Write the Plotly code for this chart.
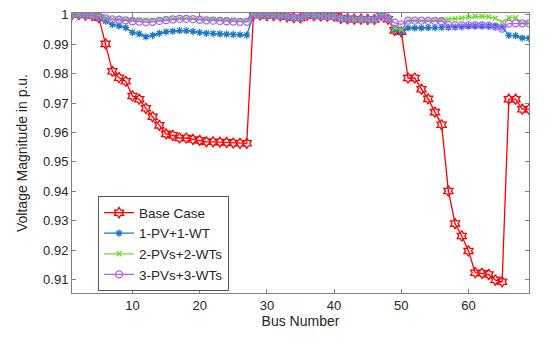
import plotly.graph_objects as go

buses = list(range(1, 70))

base_case = [1.0000, 1.0000, 0.9999, 0.9998, 0.9990, 0.9901, 0.9808, 0.9786, 0.9774, 0.9724,
             0.9713, 0.9682, 0.9653, 0.9624, 0.9595, 0.9590, 0.9581, 0.9581, 0.9576, 0.9573,
             0.9568, 0.9568, 0.9567, 0.9566, 0.9564, 0.9563, 0.9563, 0.9999, 0.9999, 0.9997,
             0.9997, 0.9996, 0.9993, 0.9990, 0.9989, 0.9999, 0.9997, 0.9996, 0.9995, 0.9995,
             0.9988, 0.9986, 0.9985, 0.9985, 0.9984, 0.9984, 0.9998, 0.9985, 0.9947, 0.9942,
             0.9785, 0.9785, 0.9747, 0.9714, 0.9669, 0.9626, 0.9401, 0.9290, 0.9248, 0.9197,
             0.9123, 0.9121, 0.9117, 0.9098, 0.9092, 0.9713, 0.9713, 0.9679, 0.9679]

lateral = [0.9999, 0.9999, 0.9997, 0.9997, 0.9996, 0.9993, 0.9990, 0.9989, 0.9999, 0.9997,
           0.9996, 0.9995, 0.9995, 0.9988, 0.9986, 0.9985, 0.9985, 0.9984, 0.9984]

pv1_wt1 = ([1.0000, 1.0000, 0.9999, 0.9998, 0.9993, 0.9978, 0.9967, 0.9962, 0.9956, 0.9940,
            0.9935, 0.9925, 0.9930, 0.9937, 0.9942, 0.9944, 0.9946, 0.9946, 0.9943, 0.9940,
            0.9937, 0.9936, 0.9935, 0.9934, 0.9933, 0.9932, 0.9931]
           + lateral +
           [0.9999, 0.9988, 0.9950, 0.9942, 0.9955, 0.9955, 0.9955, 0.9956, 0.9956, 0.9957,
            0.9957, 0.9958, 0.9959, 0.9961, 0.9962, 0.9962, 0.9962, 0.9961, 0.9958, 0.9930,
            0.9929, 0.9921, 0.9920])

pv2_wt2 = ([1.0000, 1.0000, 0.9999, 0.9998, 0.9996, 0.9990, 0.9986, 0.9985, 0.9984, 0.9983,
            0.9983, 0.9982, 0.9982, 0.9984, 0.9986, 0.9987, 0.9988, 0.9988, 0.9987, 0.9986,
            0.9985, 0.9984, 0.9983, 0.9982, 0.9982, 0.9981, 0.9981]
           + lateral +
           [0.9999, 0.9988, 0.9955, 0.9950, 0.9980, 0.9980, 0.9980, 0.9981, 0.9982, 0.9983,
            0.9985, 0.9987, 0.9989, 0.9991, 0.9995, 0.9995, 0.9993, 0.9988, 0.9975, 0.9990,
            0.9990, 0.9972, 0.9972])

pv3_wt3 = ([1.0000, 1.0000, 0.9999, 0.9998, 0.9994, 0.9988, 0.9984, 0.9983, 0.9981, 0.9978,
            0.9977, 0.9975, 0.9976, 0.9979, 0.9982, 0.9984, 0.9986, 0.9986, 0.9985, 0.9983,
            0.9981, 0.9980, 0.9979, 0.9978, 0.9977, 0.9976, 0.9976]
           + lateral +
           [0.9998, 0.9988, 0.9973, 0.9967, 0.9980, 0.9980, 0.9980, 0.9979, 0.9979, 0.9978,
            0.9965, 0.9964, 0.9964, 0.9964, 0.9964, 0.9964, 0.9963, 0.9960, 0.9953, 0.9970,
            0.9971, 0.9971, 0.9971])

x_ticks = [10, 20, 30, 40, 50, 60]
y_ticks = [0.91, 0.92, 0.93, 0.94, 0.95, 0.96, 0.97, 0.98, 0.99, 1.0]
y_tick_labels = ["0.91", "0.92", "0.93", "0.94", "0.95", "0.96", "0.97", "0.98", "0.99", "1"]

series = [
    ("Base Case", base_case, "#FF0000", "hexagram-open", 8),
    ("1-PV+1-WT", pv1_wt1, "#1A78C2", "asterisk-open", 6),
    ("2-PVs+2-WTs", pv2_wt2, "#6FDB2C", "x-thin-open", 5),
    ("3-PVs+3-WTs", pv3_wt3, "#B35CFF", "circle-open", 7),
]

fig = go.Figure()
for name, vals, color, sym, size in series:
    fig.add_trace(go.Scatter(
        x=buses, y=vals, name=name, mode="lines+markers",
        line=dict(color=color, width=1.3),
        marker=dict(symbol=sym, size=size, color=color, line=dict(color=color, width=1.3)),
        cliponaxis=True,
    ))

axis_common = dict(
    showline=True, linecolor="#7f7f7f", linewidth=1, mirror="ticks",
    ticks="inside", ticklen=4, tickcolor="#7f7f7f", showgrid=False, zeroline=False,
    automargin=False, ticklabeloverflow="allow",
    tickfont=dict(family="Liberation Sans, Arial", size=13, color="#262626"),
)

# page body has an 8px default margin; the figure is sized to fit inside it
fig.update_layout(
    width=542, height=330,
    margin=dict(l=64, r=21, t=5, b=45),
    paper_bgcolor="white", plot_bgcolor="white",
    font=dict(family="Liberation Sans, Arial", size=13, color="#262626"),
    xaxis=dict(range=[1, 69], tickvals=x_ticks,
               title=dict(text="Bus Number", standoff=4, font=dict(size=14)), **axis_common),
    yaxis=dict(range=[0.9054, 1.0006], tickvals=y_ticks, ticktext=y_tick_labels,
               title=dict(text="Voltage Magnitude in p.u.", standoff=12, font=dict(size=14)), **axis_common),
    legend=dict(x=0.057, y=0.345, xanchor="left", yanchor="top",
                bordercolor="#555555", borderwidth=1, bgcolor="white",
                font=dict(size=13.5), tracegroupgap=0),
    showlegend=True,
)

fig.write_html("out.html")
